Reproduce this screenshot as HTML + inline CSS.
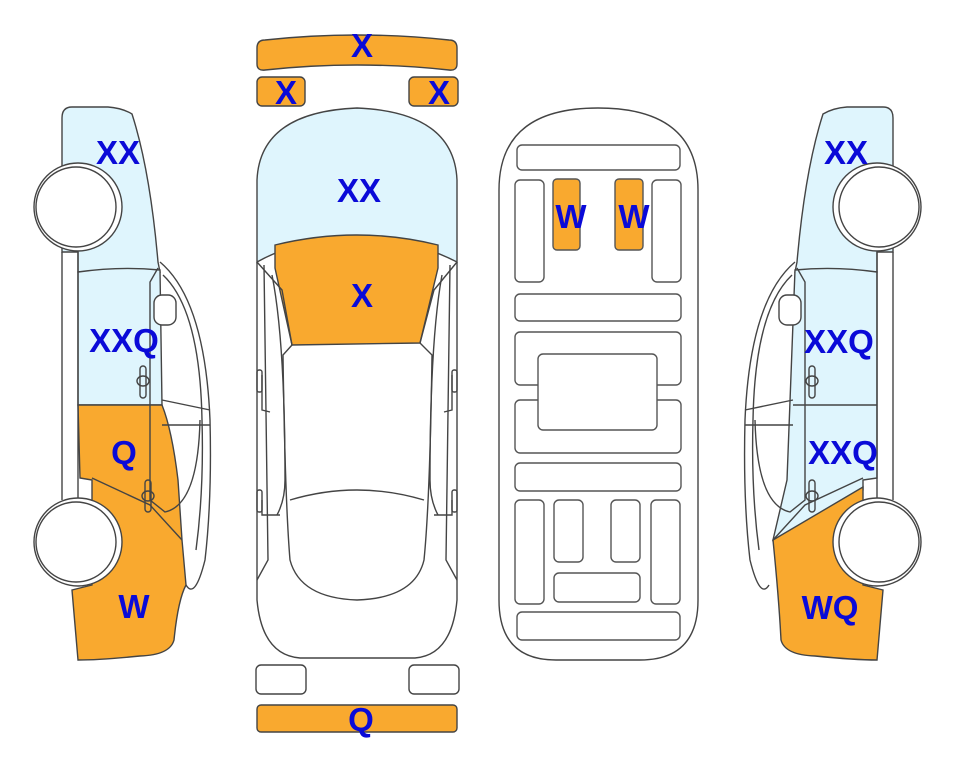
<!DOCTYPE html>
<html><head><meta charset="utf-8"><style>
html,body{margin:0;padding:0;background:#fff;}
svg{display:block;}
text{font-family:"Liberation Sans",sans-serif;font-weight:bold;fill:#0a0ad8;font-size:33px;text-anchor:middle;}
</style></head><body>
<svg width="963" height="768" viewBox="0 0 963 768" xmlns="http://www.w3.org/2000/svg">
<g stroke="#444" stroke-width="1.4" fill="none">
<!-- LEFT CAR -->
<g id="lcar">
<path d="M62,118 Q62,107 72,107 L108,107 Q122,108 132,114 Q150,170 158,262 L160,272 L78,272 L78,252 L62,252 Z" fill="#dff5fd"/>
<path d="M78,272 Q120,266 160,270 L162,405 L78,405 Z" fill="#dff5fd"/>
<path d="M78,405 L162,405 Q172,430 178,480 L182,540 L186,585 Q178,600 174,640 Q170,655 140,656 Q100,660 78,660 L72,590 L92,585 L92,480 L80,478 Z" fill="#f9a92f"/>
<path d="M160,262 Q205,300 210,420 Q212,500 205,560 Q195,600 186,585"/>
<path d="M163,275 Q200,310 202,420 Q204,490 196,550"/>
<path d="M158,268 L150,282 L150,500 L165,512 Q198,505 200,420"/>
<rect x="154" y="295" width="22" height="30" rx="8" fill="#fff"/>
<path d="M162,400 L210,410 M162,425 L210,425"/>
<line x1="62" y1="252" x2="62" y2="500"/>
<line x1="78" y1="252" x2="78" y2="500"/>
<path d="M92,478 L150,505 L182,540"/>
<rect x="140" y="366" width="6" height="32" rx="3"/>
<ellipse cx="143" cy="381" rx="6" ry="5"/>
<rect x="145" y="480" width="6" height="32" rx="3"/>
<ellipse cx="148" cy="496" rx="6" ry="5"/>
<circle cx="78" cy="207" r="44" fill="#fff"/>
<circle cx="76" cy="207" r="40" fill="#fff"/>
<circle cx="78" cy="542" r="44" fill="#fff"/>
<circle cx="76" cy="542" r="40" fill="#fff"/>
</g>
<!-- RIGHT CAR (mirror) -->
<g transform="translate(955,0) scale(-1,1)">
<path d="M62,118 Q62,107 72,107 L108,107 Q122,108 132,114 Q150,170 158,262 L160,272 L78,272 L78,252 L62,252 Z" fill="#dff5fd"/>
<path d="M78,272 Q120,266 160,270 L168,480 L182,540 L92,490 L92,480 L78,478 Z" fill="#dff5fd"/>
<path d="M92,487 L182,540 Q176,600 174,640 Q170,655 140,656 Q100,660 78,660 L72,590 L92,585 Z" fill="#f9a92f"/>
<path d="M160,262 Q205,300 210,420 Q212,500 205,560 Q195,600 186,585"/>
<path d="M163,275 Q200,310 202,420 Q204,490 196,550"/>
<path d="M158,268 L150,282 L150,500 L165,512 Q198,505 200,420"/>
<rect x="154" y="295" width="22" height="30" rx="8" fill="#fff"/>
<path d="M162,400 L210,410 M162,425 L210,425 M78,405 L162,405"/>
<line x1="62" y1="252" x2="62" y2="500"/>
<line x1="78" y1="252" x2="78" y2="500"/>
<path d="M92,478 L150,505 L182,540"/>
<rect x="140" y="366" width="6" height="32" rx="3"/>
<ellipse cx="143" cy="381" rx="6" ry="5"/>
<rect x="140" y="480" width="6" height="32" rx="3"/>
<ellipse cx="143" cy="496" rx="6" ry="5"/>
<circle cx="78" cy="207" r="44" fill="#fff"/>
<circle cx="76" cy="207" r="40" fill="#fff"/>
<circle cx="78" cy="542" r="44" fill="#fff"/>
<circle cx="76" cy="542" r="40" fill="#fff"/>
</g>
<!-- CENTER TOP VIEW -->
<path d="M257,48 Q257,40 265,40 Q357,30 449,40 Q457,40 457,48 L457,64 Q457,71 449,70 Q357,60 265,70 Q257,71 257,64 Z" fill="#f9a92f"/>
<rect x="257" y="77" width="48" height="29" rx="5" fill="#f9a92f"/>
<rect x="409" y="77" width="49" height="29" rx="5" fill="#f9a92f"/>
<path d="M257,262 L257,180 Q260,112 357,108 Q454,112 457,180 L457,262 Q410,238 357,238 Q300,238 257,262 Z" fill="#dff5fd"/>
<path d="M275,245 Q357,225 438,245 L438,268 L420,343 L292,345 L275,268 Z" fill="#f9a92f"/>
<path d="M257,262 L257,600 Q262,655 300,658 L415,658 Q452,655 457,600 L457,262"/>
<path d="M257,262 L282,290 L292,345 M457,262 L434,290 L420,343"/>
<path d="M292,345 L283,355 Q285,500 290,560 Q300,598 357,600 Q415,598 424,560 Q430,500 432,355 L420,343"/>
<path d="M290,500 Q357,480 424,500"/>
<path d="M264,265 L268,560 L257,580 M450,265 L446,560 L457,580"/>
<path d="M272,275 Q285,340 285,480 Q285,500 277,515 M442,275 Q430,340 430,480 Q430,500 438,515"/>
<rect x="257" y="370" width="5" height="22" rx="2"/><rect x="452" y="370" width="5" height="22" rx="2"/>
<rect x="257" y="490" width="5" height="22" rx="2"/><rect x="452" y="490" width="5" height="22" rx="2"/>
<path d="M262,375 L262,410 L270,412 M452,375 L452,410 L444,412"/>
<path d="M262,500 L262,515 L280,515 M452,500 L452,515 L434,515"/>
<rect x="256" y="665" width="50" height="29" rx="5" fill="#fff"/>
<rect x="409" y="665" width="50" height="29" rx="5" fill="#fff"/>
<rect x="257" y="705" width="200" height="27" rx="4" fill="#f9a92f"/>
<!-- CHASSIS -->
<path d="M499,190 Q499,108 598,108 Q698,108 698,190 L698,600 Q698,660 640,660 L556,660 Q499,660 499,600 Z" fill="#fff"/>
<g stroke="#555">
<rect x="517" y="145" width="163" height="25" rx="5"/>
<rect x="515" y="180" width="29" height="102" rx="5"/>
<rect x="553" y="179" width="27" height="71" rx="4" fill="#f9a92f"/>
<rect x="615" y="179" width="28" height="71" rx="4" fill="#f9a92f"/>
<rect x="652" y="180" width="29" height="102" rx="5"/>
<rect x="515" y="294" width="166" height="27" rx="5"/>
<rect x="515" y="332" width="166" height="53" rx="5"/>
<rect x="515" y="400" width="166" height="53" rx="5"/>
<rect x="538" y="354" width="119" height="76" rx="5" fill="#fff"/>
<rect x="515" y="463" width="166" height="28" rx="5"/>
<rect x="515" y="500" width="29" height="104" rx="5"/>
<rect x="554" y="500" width="29" height="62" rx="5"/>
<rect x="611" y="500" width="29" height="62" rx="5"/>
<rect x="651" y="500" width="29" height="104" rx="5"/>
<rect x="554" y="573" width="86" height="29" rx="5"/>
<rect x="517" y="612" width="163" height="28" rx="5"/>
</g>
</g>
<!-- LABELS -->
<text x="362" y="57">X</text>
<text x="286" y="104">X</text>
<text x="439" y="104">X</text>
<text x="359" y="202">XX</text>
<text x="362" y="307">X</text>
<text x="361" y="731">Q</text>
<text x="571" y="228">W</text>
<text x="634" y="228">W</text>
<text x="118" y="164">XX</text>
<text x="124" y="352">XXQ</text>
<text x="124" y="464">Q</text>
<text x="134" y="618">W</text>
<text x="846" y="164">XX</text>
<text x="839" y="353">XXQ</text>
<text x="843" y="464">XXQ</text>
<text x="830" y="619">WQ</text>
</svg>
</body></html>
